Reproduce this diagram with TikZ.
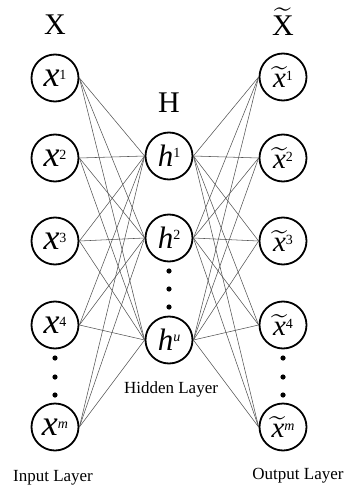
\documentclass[tikz,border=0pt]{standalone}
\usepackage{fontspec}
\usepackage{graphicx}
\usepackage{tikz}
\usetikzlibrary{positioning}
\setmainfont{Liberation Serif}
\definecolor{LinkGray}{RGB}{85,85,85}

% node texts
\newcommand{\inx}[1]{{\fontsize{36}{36}\selectfont\itshape x}\raisebox{7pt}{\fontsize{14}{14}\selectfont #1}}
\newcommand{\hid}[1]{{\fontsize{31}{31}\selectfont\itshape h}\raisebox{9pt}{\fontsize{14}{14}\selectfont #1}}
\newcommand{\outx}[1]{\raisebox{-3pt}{\scalebox{2.9}{$\widetilde{\mbox{\itshape x}}$}}\raisebox{4pt}{\fontsize{14}{14}\selectfont #1}}

\begin{document}
\begin{tikzpicture}[x=1pt, y=-1pt,
    neuron/.style={circle, draw, line width=1.8pt, minimum size=47pt, inner sep=0pt},
    link/.style={LinkGray, line width=0.55pt},
    layertitle/.style={anchor=base, font=\fontsize{30}{30}\selectfont},
    layername/.style={anchor=base, font=\fontsize{17}{17}\selectfont}]
        \useasboundingbox (0,0) rectangle (347,489);
        % input layer
        \node[neuron] (x1) at (55,78) {\inx{1}};
        \node[neuron] (x2) at (55,158) {\inx{2}};
        \node[neuron] (x3) at (55,241) {\inx{3}};
        \node[neuron] (x4) at (55,325) {\inx{4}};
        \node[neuron] (xm) at (55,427) {\inx{\textit{m}}};
        % hidden layer
        \node[neuron] (h1) at (169,156) {\hid{1}};
        \node[neuron] (h2) at (169,238) {\hid{2}};
        \node[neuron] (hu) at (169,340) {\hid{\textit{u}}};
        % output layer
        \node[neuron] (o1) at (283,77) {\outx{1}};
        \node[neuron] (o2) at (283,158) {\outx{2}};
        \node[neuron] (o3) at (283,241) {\outx{3}};
        \node[neuron] (o4) at (283,325) {\outx{4}};
        \node[neuron] (om) at (283,427) {\outx{\textit{m}}};
        \foreach \i in {x1,x2,x3,x4,xm}
          \foreach \j in {h1,h2,hu}
            \draw[link] (\i.east) -- (\j.west);
        \foreach \j in {h1,h2,hu}
          \foreach \k in {o1,o2,o3,o4,om}
            \draw[link] (\j.east) -- (\k.west);
        \foreach \y in {358,377,395} {
          \fill (55,\y) circle (2.6pt);
          \fill (283,\y) circle (2.6pt);
        }
        \foreach \y in {271,289,307} \fill (169,\y) circle (2.6pt);
        \node[layertitle] (tx) at (55,35) {X};
        \node[layertitle] (th) at (169,113) {H};
        \node[anchor=base, inner sep=0pt] (to) at (283,36) {\scalebox{3}{$\widetilde{\mbox{X}}$}};
        \node[layername] (ni) at (53,481) {Input Layer};
        \node[layername] (nh) at (171,393) {Hidden Layer};
        \node[layername] (no) at (298,479) {Output Layer};
      \end{tikzpicture}
\end{document}
